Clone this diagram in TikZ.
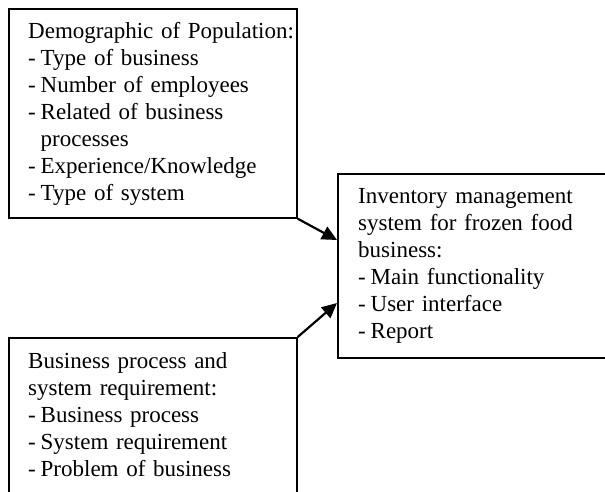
\documentclass[tikz,border=0pt]{standalone}
\usepackage{fontspec}
\setmainfont{Liberation Serif}
\usetikzlibrary{arrows.meta,calc}
\newcommand{\dashitem}{\par\noindent\hangindent=12.5pt\hangafter=1\makebox[12.5pt][l]{-}}
\begin{document}
\begin{tikzpicture}[x=1pt,y=-1pt,
  box/.style={draw, line width=1.7pt, rectangle, inner sep=0pt},
  txt/.style={anchor=base west, inner sep=0pt, align=left, text width=#1,
    font=\fontsize{23}{27}\selectfont},
  conn/.style={line width=2.2pt, -{Triangle[length=15pt,width=14pt]}}]
\useasboundingbox (0,0) rectangle (605,491);
\clip (0,0) rectangle (605,491);
\node[box, anchor=north west, minimum width=288pt, minimum height=209pt] (b1) at (8,8) {};
\node[box, anchor=north west, minimum width=300pt, minimum height=184pt] (b2) at (337,173) {};
\node[box, anchor=north west, minimum width=288pt, minimum height=200pt] (b3) at (8,337) {};
\node[txt=270pt] (t1) at (28,38) {Demographic of Population:
  \dashitem Type of business
  \dashitem Number of employees
  \dashitem Related of business\hfil\break processes
  \dashitem Experience/Knowledge
  \dashitem Type of system};
\node[txt=245pt] (t2) at (358,203) {Inventory management\hfil\break system for frozen food\hfil\break business:
  \dashitem Main functionality
  \dashitem User interface
  \dashitem Report};
\node[txt=265pt] (t3) at (28,368) {Business process and\hfil\break system requirement:
  \dashitem Business process
  \dashitem System requirement
  \dashitem Problem of business};
\coordinate (e1) at ($(b2.north west)+(0,67)$);
\coordinate (e2) at ($(b2.north west)+(0,130)$);
\draw[conn] (b1.south east) -- (e1);
\draw[conn] (b3.north east) -- (e2);
\end{tikzpicture}
\end{document}
